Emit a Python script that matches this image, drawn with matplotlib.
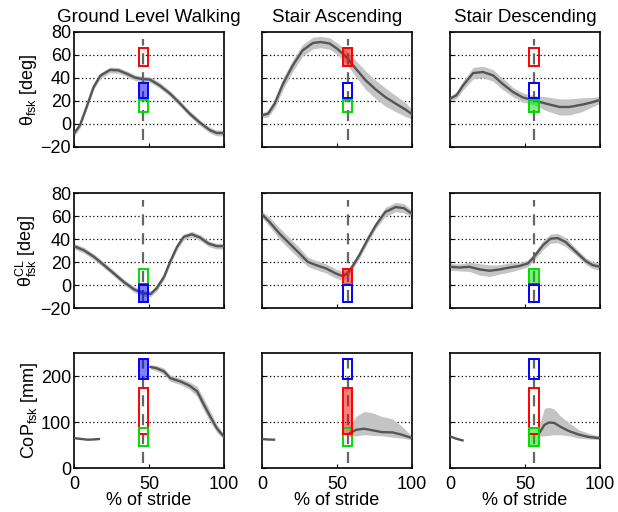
import numpy as np
import matplotlib
matplotlib.use("Agg")
import matplotlib.pyplot as plt
import matplotlib.patches as patches

plt.rcParams['font.family'] = ['Liberation Sans', 'DejaVu Sans']
plt.rcParams['mathtext.fontset'] = 'custom'
plt.rcParams['mathtext.rm'] = 'Liberation Sans'
plt.rcParams['mathtext.it'] = 'Liberation Sans:italic'

# ---- data ----
titles = ["Ground Level Walking", "Stair Ascending", "Stair Descending"]
ylabels = ["θ$_{\\rm fsk}$ [deg]", "θ$^{\\rm CL}_{\\rm fsk}$ [deg]", "CoP$_{\\rm fsk}$ [mm]"]
event_x = [46, 57, 56]   # dashed vertical line (% of stride)

# row 1: thigh angle
th_gw_x = [0, 4, 8.4, 13, 17.5, 24, 29.5, 35, 40.7, 45.8, 50.7, 57, 64, 70.7, 77, 84, 90.7, 95, 100]
th_gw_y = [-8.4, -1, 14.8, 32, 42, 47, 46.7, 43.8, 40.3, 39, 38.6, 33.6, 26.4, 17.7, 9, 1, -5.5, -7.8, -7.8]
th_gw_s = [2.5] * 19

th_sa_x = [0, 4, 8.4, 14, 20.5, 27, 33.8, 39, 45, 50, 56.5, 62.5, 69, 75.7, 82, 89, 95.6, 100]
th_sa_y = [7.5, 9, 17.7, 35, 51, 64, 70.4, 71.3, 70, 65.5, 57.7, 48, 38, 30, 23.5, 17.7, 12.5, 8.4]
th_sa_s = [2, 3, 4, 5, 5, 5, 5, 5, 5, 5, 6, 7, 8, 8, 8, 7, 6, 4]

th_sd_x = [0, 4.4, 8.8, 15.5, 22, 28.7, 35, 42, 48.6, 56, 64, 73, 79.5, 88, 95, 100]
th_sd_y = [22, 25, 33.6, 44.3, 45.2, 42.3, 35, 27.8, 23, 20.6, 17.7, 14.8, 14.8, 16.8, 19, 21]
th_sd_s = [2, 3, 4, 5, 5, 5, 5, 4, 4, 4, 6, 7, 7, 6, 4, 3]

# row 2: contralateral thigh angle
cl_gw_x = [0, 6.6, 13.3, 20, 26.5, 33, 40, 46, 51, 55, 60, 64, 68.6, 73, 78.5, 84, 89.6, 95, 100]
cl_gw_y = [34, 30.4, 24.7, 17.5, 10.3, 3, -3.6, -7, -7.6, -2.7, 7.4, 20.3, 33.3, 42, 44.3, 41.4, 36.2, 34, 34]
cl_gw_s = [2.5] * 19

cl_sa_x = [0, 5, 11.7, 18.3, 25, 30.5, 36, 42.6, 49, 53.6, 57, 60, 64.7, 70, 75.7, 82, 89, 94.5, 100]
cl_sa_y = [61.6, 55, 44.8, 36.2, 27.6, 20.3, 17.5, 14.6, 10.3, 8, 10.3, 16, 26, 39, 52, 63.6, 68, 67, 62]
cl_sa_s = [3, 4, 5, 5, 5, 4, 4, 4, 4, 4, 3, 3, 3, 3, 3, 4, 4, 4, 3]

cl_sd_x = [0, 6.6, 13, 20, 26.5, 33, 39.7, 46, 52, 56, 62, 67, 71.7, 77, 84, 90.5, 95, 100]
cl_sd_y = [16, 15.4, 16, 13.7, 12.6, 13.7, 15.4, 16.6, 19, 24.7, 34.8, 40.5, 41, 37.6, 29, 21, 17.5, 16]
cl_sd_s = [3, 3, 4, 5, 5, 4, 4, 3, 3, 3, 4, 4, 4, 4, 3, 3, 3, 3]

# row 3: centre of pressure (two segments: early stance tail, then stance)
cop_gw_x1 = [0, 4, 8.8, 12.5, 16.6]
cop_gw_y1 = [65, 63.5, 61.6, 62, 63]
cop_gw_x2 = [51, 55, 60, 64, 71, 77, 82, 86, 90.7, 95, 100]
cop_gw_y2 = [219.6, 217, 210, 195.6, 188, 179, 166.7, 141, 112, 87, 67.4]
cop_gw_s2 = [5, 6, 7, 7, 7, 8, 11, 13, 12, 9, 5]

cop_sa_x1 = [0, 4, 8]
cop_sa_y1 = [63, 62, 61.6]
cop_sa_x2 = [58, 62.5, 68, 73.5, 80, 86.8, 93, 100]
cop_sa_y2 = [74.6, 83, 85.5, 82, 78, 77.5, 72.5, 65]
cop_sa_lo = [69, 70, 72.5, 71, 70, 67, 65, 61.6]
cop_sa_hi = [90, 112, 123, 120, 112, 107, 91, 69]

cop_sd_x1 = [0, 4, 8.4]
cop_sd_y1 = [69, 64, 60]
cop_sd_x2 = [59.6, 63, 66, 69.5, 74, 79.5, 86, 92.7, 100]
cop_sd_y2 = [76, 94, 99, 98, 89, 80, 72.5, 67.4, 65]
cop_sd_lo = [69, 70, 71, 72.5, 72, 70, 65, 63, 61.6]
cop_sd_hi = [95, 130, 132, 128, 112, 98, 83, 75, 69]

# prediction boxes per panel: (colour, low, high, filled)
boxes = [
    [("red", 50, 66, False), ("blue", 23, 36, True), ("#00dd00", 10, 21, False)],
    [("red", 50, 66, True), ("blue", 23, 36, False), ("#00dd00", 10, 21, False)],
    [("red", 50, 66, False), ("blue", 23, 36, False), ("#00dd00", 10, 21, True)],
    [("#00dd00", 1.5, 14.5, False), ("red", 0, 1, False), ("blue", -14.5, 0, True)],
    [("red", 1, 14.5, True), ("#00dd00", 1, 1.5, False), ("blue", -14.5, 0, False)],
    [("#00dd00", 1, 14.5, True), ("red", 0, 1, False), ("blue", -14.5, 0, False)],
    [("blue", 193, 236, True), ("red", 75, 173, False), ("#00dd00", 48, 88, False)],
    [("blue", 193, 236, False), ("#00dd00", 48, 88, False), ("red", 74, 173, True)],
    [("blue", 193, 236, False), ("red", 74, 173, False), ("#00dd00", 48, 88, True)],
]

ylims = [(-20, 80), (-20, 80), (0, 250)]
yticks = [[-20, 0, 20, 40, 60, 80], [-20, 0, 20, 40, 60, 80], [0, 100, 200]]
ygrid = [[0, 20, 40, 60], [0, 20, 40, 60], [100, 200]]
dash_span = [(-14, 74), (-14, 74), (10, 236)]

LINE = '#555555'
BAND = '#c4c4c4'
FS = 13

fig = plt.figure(figsize=(6.18, 5.12), dpi=100)
lefts = [0.1197, 0.424, 0.728]
bottoms = [0.7129, 0.398, 0.0859]
W, H = 0.243, 0.2246

axes = [[fig.add_axes([lefts[c], bottoms[r], W, H]) for c in range(3)] for r in range(3)]

def band_line(ax, x, y, s=None, lo=None, hi=None):
    x = np.asarray(x, float)
    y = np.asarray(y, float)
    if s is not None:
        s = np.asarray(s, float)
        lo, hi = y - s, y + s
    ax.fill_between(x, lo, hi, color=BAND, lw=0, zorder=2)
    ax.plot(x, y, color=LINE, lw=1.7, zorder=3)

band_line(axes[0][0], th_gw_x, th_gw_y, th_gw_s)
band_line(axes[0][1], th_sa_x, th_sa_y, th_sa_s)
band_line(axes[0][2], th_sd_x, th_sd_y, th_sd_s)
band_line(axes[1][0], cl_gw_x, cl_gw_y, cl_gw_s)
band_line(axes[1][1], cl_sa_x, cl_sa_y, cl_sa_s)
band_line(axes[1][2], cl_sd_x, cl_sd_y, cl_sd_s)

axes[2][0].plot(cop_gw_x1, cop_gw_y1, color=LINE, lw=1.7, zorder=3)
band_line(axes[2][0], cop_gw_x2, cop_gw_y2, cop_gw_s2)
axes[2][1].plot(cop_sa_x1, cop_sa_y1, color=LINE, lw=1.7, zorder=3)
band_line(axes[2][1], cop_sa_x2, cop_sa_y2, lo=cop_sa_lo, hi=cop_sa_hi)
axes[2][2].plot(cop_sd_x1, cop_sd_y1, color=LINE, lw=1.7, zorder=3)
band_line(axes[2][2], cop_sd_x2, cop_sd_y2, lo=cop_sd_lo, hi=cop_sd_hi)

BOX_W = 6
for r in range(3):
    for c in range(3):
        ax = axes[r][c]
        ex = event_x[c]
        ax.set_xlim(0, 100)
        ax.set_ylim(*ylims[r])
        ax.set_yticks(yticks[r])
        ax.set_xticks([0, 50, 100])
        for g in ygrid[r]:
            ax.axhline(g, color='black', ls=(0, (1, 2)), lw=0.9, zorder=1)
        ax.plot([ex, ex], dash_span[r], color='#666666', lw=1.6,
                ls=(0, (5, 3.5)), zorder=4)
        for col, lo, hi, filled in boxes[r * 3 + c]:
            if filled:
                ax.add_patch(patches.Rectangle((ex - BOX_W / 2, lo), BOX_W, hi - lo,
                                               facecolor=col, alpha=0.5, edgecolor='none', zorder=5))
            ax.add_patch(patches.Rectangle((ex - BOX_W / 2, lo), BOX_W, hi - lo,
                                           fill=False, edgecolor=col, lw=1.4, zorder=6))
        ax.tick_params(direction='in', length=3, labelsize=FS, top=False, right=False)
        ax.tick_params(axis='y', pad=2)
        ax.tick_params(axis='x', pad=6)
        for sp in ax.spines.values():
            sp.set_linewidth(1.2)
        if c > 0:
            ax.set_yticklabels([])
        else:
            ax.set_ylabel(ylabels[r], fontsize=FS, labelpad=1)
        if r < 2:
            ax.set_xticklabels([])
        else:
            ax.set_xlabel("% of stride", fontsize=FS, labelpad=-1)
        if r == 0:
            ax.set_title(titles[c], fontsize=13.5, pad=7)

fig.savefig("out.png", dpi=100, facecolor='white')
